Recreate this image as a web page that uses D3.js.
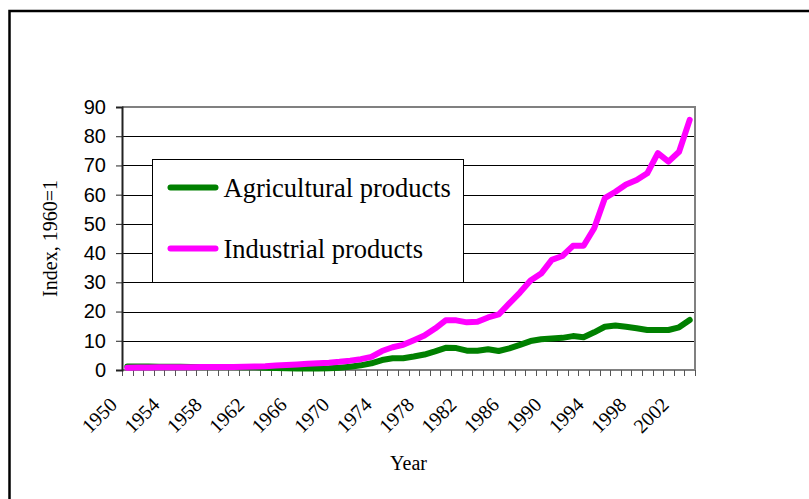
<!DOCTYPE html>
<html>
<head>
<meta charset="utf-8">
<script src="https://cdn.jsdelivr.net/npm/d3@7"></script>
<style>
  body { margin: 0; background: #fff; }
  svg { display: block; }
</style>
</head>
<body>
<div id="chart"></div>
<script>

// data, one value per year 1950..2003
var years = d3.range(1950, 2004)

var agricultural = [1.2, 1.2, 1.2, 1.1, 1.1, 1.1, 1.0, 1.0, 1.0, 1.0,
    1.0, 0.9, 0.9, 0.8, 0.7, 0.6, 0.5, 0.5, 0.5, 0.6,
    0.8, 1.1, 1.6, 2.3, 3.4, 4.0, 4.0, 4.6, 5.3, 6.4,
    7.6, 7.5, 6.6, 6.6, 7.1, 6.5, 7.4, 8.6, 9.9, 10.5,
    10.8, 11.0, 11.6, 11.2, 12.9, 14.8, 15.2, 14.8, 14.3, 13.7,
    13.7, 13.7, 14.6, 17.1]

var industrial = [0.8, 0.85, 0.85, 0.9, 0.9, 0.95, 0.95, 1.0, 1.0, 1.0,
    1.0, 1.1, 1.2, 1.3, 1.5, 1.7, 1.9, 2.1, 2.3, 2.5,
    2.8, 3.2, 3.7, 4.5, 6.5, 7.8, 8.6, 10.2, 11.8, 14.2,
    17.0, 17.0, 16.3, 16.5, 18.0, 19.0, 22.8, 26.5, 30.6, 33.0,
    37.7, 39.0, 42.5, 42.5, 48.5, 58.8, 61.0, 63.5, 65.0, 67.3,
    74.2, 71.3, 74.7, 85.6]

var seriesNames = ['Agricultural products', 'Industrial products']
var seriesColors = ['#008000', '#ff00ff']

var yTicks = [0, 10, 20, 30, 40, 50, 60, 70, 80, 90]
var xLabelYears = d3.range(1950, 2004, 4)

var margin = {top: 107, right: 114, bottom: 129, left: 122},
    width = 809 - margin.left - margin.right,
    height = 499 - margin.top - margin.bottom;

var root = d3.select("#chart")
    .append("svg")
      .attr("width", 809)
      .attr("height", 499)

// outer frame (right and bottom edges fall outside the picture)
root.append("rect")
    .attr("x", 9.5)
    .attr("y", 11)
    .attr("width", 820)
    .attr("height", 520)
    .attr("fill", "none")
    .attr("stroke", "#000")
    .attr("stroke-width", 2.5)

var svg = root.append("g")
    .attr("transform", "translate(" + margin.left + "," + margin.top + ")");

var x = d3.scaleBand().domain(years).range([0, width]).padding(0)
var y = d3.scaleLinear().domain([0, 90]).range([height, 0])
var bw = x.bandwidth()

// gridlines
svg.append("g")
    .selectAll("line")
    .data(yTicks.filter(d => d > 0))
    .enter()
    .append("line")
    .attr("x1", 0)
    .attr("x2", width)
    .attr("y1", d => Math.round(y(d)) + 0.5)
    .attr("y2", d => Math.round(y(d)) + 0.5)
    .attr("stroke", "#000")
    .attr("stroke-width", 1)

// plot frame top / right
svg.append("path")
    .attr("d", "M0," + y(90) + "H" + width + "V" + height)
    .attr("fill", "none")
    .attr("stroke", "#808080")
    .attr("stroke-width", 2)

// x axis line and ticks between categories
svg.append("line")
    .attr("x1", 0).attr("x2", width)
    .attr("y1", height).attr("y2", height)
    .attr("stroke", "#808080")
    .attr("stroke-width", 2)

var tickPos = years.map(d => x(d)).concat([width])
svg.append("g")
    .selectAll("line")
    .data(tickPos)
    .enter()
    .append("line")
    .attr("x1", d => Math.round(d) + 0.5)
    .attr("x2", d => Math.round(d) + 0.5)
    .attr("y1", height)
    .attr("y2", height + 6)
    .attr("stroke", "#555")
    .attr("stroke-width", 1)

// rotated year labels
svg.append("g")
    .selectAll("text")
    .data(xLabelYears)
    .enter()
    .append("text")
    .attr("text-anchor", "end")
    .attr("transform", d => "translate(" + (x(d) + bw / 2 - 9) + "," + (height + 36) + ") rotate(-45)")
    .style("font-family", "'Liberation Serif', 'Times New Roman', serif")
    .style("font-size", "20px")
    .attr("fill", "#000")
    .text(d => d)

// y axis
var yAxis = svg.append("g")
    .call(d3.axisLeft(y).tickValues(yTicks).tickSize(6).tickPadding(10).tickFormat(d3.format("d")))
yAxis.select(".domain").attr("stroke", "#222").attr("stroke-width", 2)
yAxis.selectAll(".tick line").attr("stroke", "#222")
yAxis.selectAll(".tick text")
    .style("font-family", "'Liberation Sans', Arial, sans-serif")
    .style("font-size", "20px")
    .attr("fill", "#000")

// lines
var line = d3.line()
    .x((d, i) => x(years[i]) + bw / 2)
    .y(d => y(d))

var seriesData = [agricultural, industrial]
svg.append("g")
    .selectAll("path")
    .data(seriesData)
    .enter()
    .append("path")
    .attr("d", d => line(d))
    .attr("fill", "none")
    .attr("stroke", (d, i) => seriesColors[i])
    .attr("stroke-width", 6)
    .attr("stroke-linejoin", "round")
    .attr("stroke-linecap", "round")

// legend
var legend = svg.append("g")
    .attr("transform", "translate(" + 30.5 + "," + 52.5 + ")")

legend.append("rect")
    .attr("width", 311)
    .attr("height", 123)
    .attr("fill", "#fff")
    .attr("stroke", "#000")
    .attr("stroke-width", 1)

var items = legend.selectAll(".item")
    .data(seriesNames)
    .enter()
    .append("g")
    .attr("class", "item")
    .attr("transform", (d, i) => "translate(0," + (28 + i * 61) + ")")

items.append("line")
    .attr("x1", 18).attr("x2", 63)
    .attr("y1", 0).attr("y2", 0)
    .attr("stroke", (d, i) => seriesColors[i])
    .attr("stroke-width", 6)
    .attr("stroke-linecap", "round")

items.append("text")
    .attr("x", 71)
    .attr("y", 9)
    .style("font-family", "'Liberation Serif', 'Times New Roman', serif")
    .style("font-size", "26.5px")
    .attr("fill", "#000")
    .text(d => d)

// axis titles
svg.append("text")
    .attr("text-anchor", "middle")
    .attr("transform", "translate(" + (57 - margin.left) + "," + (height / 2) + ") rotate(-90)")
    .style("font-family", "'Liberation Serif', 'Times New Roman', serif")
    .style("font-size", "20px")
    .text("Index, 1960=1")

svg.append("text")
    .attr("text-anchor", "middle")
    .attr("x", width / 2)
    .attr("y", height + 100)
    .style("font-family", "'Liberation Serif', 'Times New Roman', serif")
    .style("font-size", "20px")
    .text("Year")

</script>
</body>
</html>
